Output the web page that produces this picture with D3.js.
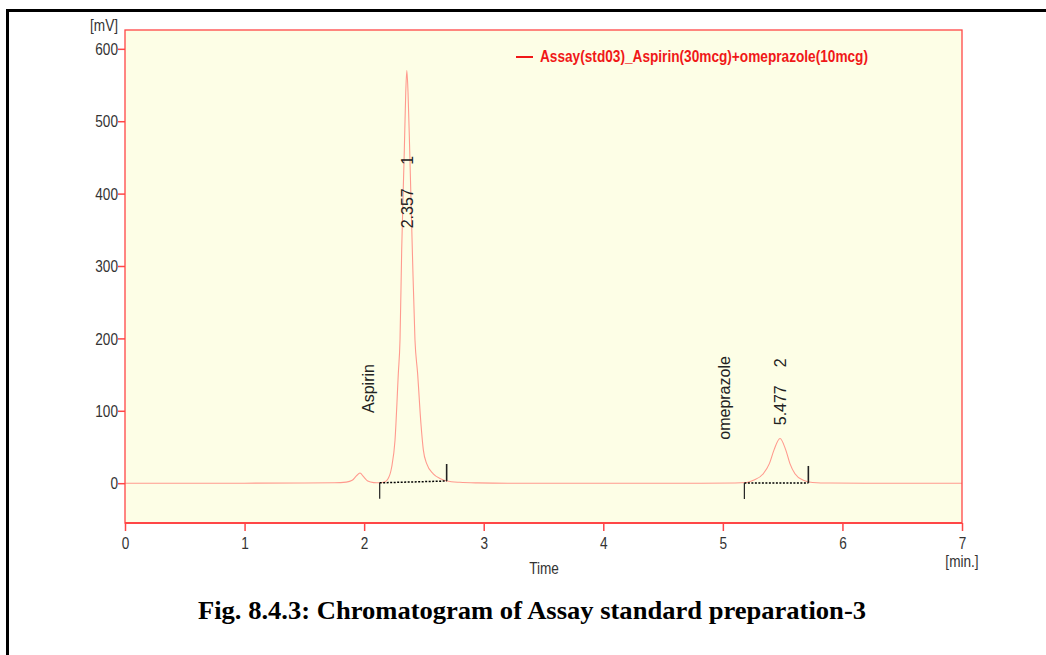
<!DOCTYPE html>
<html lang="en">
<head>
  <title>Chromatogram</title>
  <meta charset="utf-8">
<style>
body {
    margin: 0;
    background: #fff;
}
svg text {
    font-family: "Liberation Sans Narrow", "Arial Narrow", "Liberation Sans", Arial, sans-serif;
}
</style>
</head>
<body>
<div id="app"></div>
<script src="https://d3js.org/d3.v7.min.js"></script>
<script>
// trace: [time (min), signal (mV)]
var trace = [
  [0, 0], [0.5, 0], [1.0, 0], [1.5, 0.2], [1.75, 0.5], [1.85, 1.5],
  [1.9, 4], [1.935, 10], [1.965, 14], [1.995, 9], [2.03, 3], [2.08, 0.8],
  [2.13, 0.5], [2.17, 1.5], [2.2, 6], [2.23, 22], [2.258, 59], [2.286, 152],
  [2.3, 198], [2.314, 322], [2.336, 460], [2.348, 540], [2.357, 570],
  [2.367, 540], [2.381, 460], [2.403, 322], [2.425, 198], [2.447, 152],
  [2.475, 82], [2.495, 46], [2.523, 27], [2.578, 13], [2.634, 6.5],
  [2.69, 3], [2.8, 1.2], [2.95, 0.4], [3.2, 0], [4.0, 0], [4.8, 0],
  [5.1, 0.3], [5.2, 1], [5.255, 4], [5.338, 13], [5.389, 27], [5.428, 46],
  [5.478, 61.7], [5.526, 46], [5.561, 27], [5.603, 13], [5.673, 4],
  [5.75, 1], [5.9, 0.2], [6.2, 0], [7.0, 0]
];

// integrated peaks
var peakNames = ["Aspirin", "omeprazole"];
var peakTimes = [2.357, 5.477];
var peakStart = [2.13, 5.18];
var peakEnd = [2.69, 5.715];
var baseStart = [0.5, 0.3];
var baseEnd = [3, 0.3];

var xTicks = [0, 1, 2, 3, 4, 5, 6, 7];
var yTicks = [0, 100, 200, 300, 400, 500, 600];
var legendLabel = "Assay(std03)_Aspirin(30mcg)+omeprazole(10mcg)";
var caption = "Fig. 8.4.3: Chromatogram of Assay standard preparation-3";

var width = 1046, height = 655;
var margin = {top: 30, right: 84, bottom: 132, left: 125};

var svg = d3.select("#app").append("svg")
    .attr("width", width)
    .attr("height", height)
    .style("display", "block");

// horizontal text in the original looks squeezed
function condense(sel, k) {
  sel.each(function() {
    var w = this.getComputedTextLength();
    d3.select(this).attr("textLength", w * k).attr("lengthAdjust", "spacingAndGlyphs");
  });
}

// outer page frame
svg.append("rect")
    .attr("x", 7.5).attr("y", 10.5)
    .attr("width", width + 20).attr("height", height + 20)
    .attr("fill", "none")
    .attr("stroke", "#000")
    .attr("stroke-width", 3);

var x = d3.scaleLinear()
    .domain([0, 7])
    .range([margin.left, width - margin.right]);

var y = d3.scaleLinear()
    .domain([-55, 626])
    .range([height - margin.bottom, margin.top]);

// plot background
svg.append("rect")
    .attr("x", x(0)).attr("y", margin.top)
    .attr("width", x(7) - x(0))
    .attr("height", height - margin.bottom - margin.top)
    .attr("fill", "#fdfee6");

var red = "#ff4646";

var xAxis = g => g
    .attr("transform", `translate(0,${height - margin.bottom})`)
    .call(d3.axisBottom(x).tickValues(xTicks).tickFormat(d3.format("d")).tickSize(8).tickPadding(7))
    .call(g => g.select(".domain").remove())
    .call(g => g.selectAll(".tick line").attr("stroke", red).attr("stroke-width", 1.5))
    .call(g => g.selectAll(".tick text").attr("fill", "#333").attr("font-size", 16));

var yAxis = g => g
    .attr("transform", `translate(${margin.left},0)`)
    .call(d3.axisLeft(y).tickValues(yTicks).tickSize(7).tickPadding(0))
    .call(g => g.select(".domain").remove())
    .call(g => g.selectAll(".tick line").attr("stroke", red).attr("stroke-width", 1.5))
    .call(g => g.selectAll(".tick text").attr("fill", "#333").attr("font-size", 16)
        .attr("dy", "0.36em"));

svg.append("g").call(xAxis);
svg.append("g").call(yAxis);
svg.selectAll("g").attr("font-family", null);
condense(svg.selectAll(".tick text"), 0.85);

// trace
var line = d3.line()
    .x(d => x(d[0]))
    .y(d => y(d[1]))
    .curve(d3.curveMonotoneX);

svg.append("path")
    .datum(trace)
    .attr("fill", "none")
    .attr("stroke", "#ff9a8e")
    .attr("stroke-width", 1.1)
    .attr("d", line);

// integration baselines and markers
var peaks = peakNames.map((name, i) => ({
  name, rt: peakTimes[i], n: i + 1,
  t0: peakStart[i], t1: peakEnd[i], b0: baseStart[i], b1: baseEnd[i]
}));

var marks = svg.append("g");
peaks.forEach(p => {
  marks.append("line")
      .attr("x1", x(p.t0)).attr("y1", y(p.b0))
      .attr("x2", x(p.t1)).attr("y2", y(p.b1))
      .attr("stroke", "#000")
      .attr("stroke-width", 1.5)
      .attr("stroke-dasharray", "2,1.5");
  marks.append("line")
      .attr("x1", x(p.t0)).attr("x2", x(p.t0))
      .attr("y1", y(p.b0)).attr("y2", y(p.b0) + 16)
      .attr("stroke", "#222").attr("stroke-width", 1.2);
  marks.append("line")
      .attr("x1", x(p.t1)).attr("x2", x(p.t1))
      .attr("y1", y(p.b1)).attr("y2", y(p.b1) - 17)
      .attr("stroke", "#222").attr("stroke-width", 1.6);
});

// peak labels (anchor heights in mV)
var labelAt = [
  {name: [2.035, 97], rt: [2.357, 352], n: [2.357, 440]},
  {name: [5.01, 60], rt: [5.478, 80], n: [5.478, 160]}
];

function vtext(pos, txt) {
  svg.append("text")
      .attr("transform", `translate(${x(pos[0])},${y(pos[1])}) rotate(-90)`)
      .attr("dy", "0.36em")
      .attr("font-size", 16)
      .attr("fill", "#222")
      .text(txt);
}
peaks.forEach((p, i) => {
  vtext(labelAt[i].name, p.name);
  vtext(labelAt[i].rt, d3.format(".3f")(p.rt));
  vtext(labelAt[i].n, String(p.n));
});

// plot frame
svg.append("rect")
    .attr("x", x(0)).attr("y", margin.top)
    .attr("width", x(7) - x(0))
    .attr("height", height - margin.bottom - margin.top)
    .attr("fill", "none")
    .attr("stroke", red)
    .attr("stroke-width", 1.3);
svg.append("line")
    .attr("x1", x(0)).attr("x2", x(7))
    .attr("y1", height - margin.bottom).attr("y2", height - margin.bottom)
    .attr("stroke", red).attr("stroke-width", 2);

// legend
svg.append("line")
    .attr("x1", 516).attr("x2", 533)
    .attr("y1", 57).attr("y2", 57)
    .attr("stroke", "#f01818").attr("stroke-width", 2);
svg.append("text")
    .attr("x", 540).attr("y", 62)
    .attr("font-size", 16)
    .attr("font-weight", "bold")
    .attr("fill", "#f01818")
    .attr("textLength", 328)
    .attr("lengthAdjust", "spacingAndGlyphs")
    .text(legendLabel);

// axis titles
var titles = svg.append("g")
    .attr("font-size", 16)
    .attr("fill", "#333");
titles.append("text")
    .attr("x", 118).attr("y", 31)
    .attr("text-anchor", "end")
    .text("[mV]");
titles.append("text")
    .attr("x", 544).attr("y", 574)
    .attr("text-anchor", "middle")
    .text("Time");
titles.append("text")
    .attr("x", x(7)).attr("y", 567)
    .attr("text-anchor", "middle")
    .text("[min.]");
condense(titles.selectAll("text"), 0.85);

// figure caption
svg.append("text")
    .attr("x", 198).attr("y", 619)
    .style("font-family", "'Liberation Serif', 'Times New Roman', serif")
    .attr("font-size", 26)
    .attr("font-weight", "bold")
    .attr("fill", "#000")
    .attr("textLength", 668)
    .attr("lengthAdjust", "spacingAndGlyphs")
    .text(caption);
</script>
</body>
</html>
